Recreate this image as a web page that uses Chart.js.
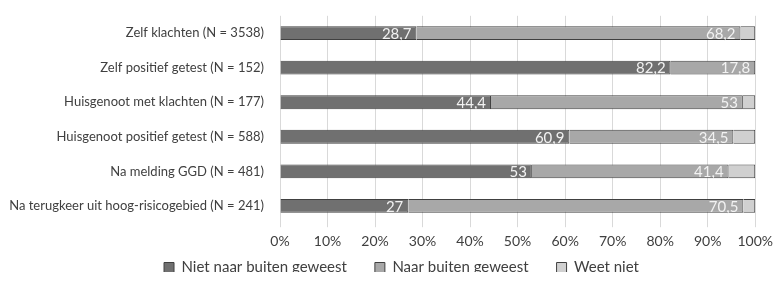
<!DOCTYPE html>
<html>
<head>
<meta charset="utf-8">
<script src="https://cdn.jsdelivr.net/npm/chart.js@4"></script>
<style>
  html, body { margin: 0; padding: 0; background: #fff; }
  #wrap { width: 779px; height: 281px; }
</style>
</head>
<body>
<div id="wrap"><canvas id="graph" width="779" height="281"></canvas></div>
<script>
const categories = [
    "Zelf klachten (N = 3538)",
    "Zelf positief getest (N = 152)",
    "Huisgenoot met klachten (N = 177)",
    "Huisgenoot positief getest (N = 588)",
    "Na melding GGD (N = 481)",
    "Na terugkeer uit hoog-risicogebied (N = 241)"
];
const nietBuiten = [28.7, 82.2, 44.4, 60.9, 53, 27];
const welBuiten = [68.2, 17.8, 53, 34.5, 41.4, 70.5];
const weetNiet = [3.1, 0, 2.6, 4.6, 5.6, 2.5];

const fontFam = "Lato, 'Open Sans', sans-serif";

// writes the value at the right end of each segment (only for the first two series)
const segmentLabels = {
    id: "segmentLabels",
    afterDatasetsDraw(chart) {
        const c = chart.ctx;
        c.save();
        c.font = "15px " + fontFam;
        c.fillStyle = "#f2f2f2";
        c.textAlign = "right";
        c.textBaseline = "middle";
        chart.data.datasets.forEach((ds, i) => {
            if (!ds.showLabels) return;
            chart.getDatasetMeta(i).data.forEach((bar, j) => {
                const v = ds.data[j];
                if (!v) return;
                c.fillText(String(v).replace(".", ","), bar.x - 5, bar.y + 1);
            });
        });
        c.restore();
    }
};

// keep the wide gap between legend items but not the tall legend box
const legendTweak = {
    id: "legendTweak",
    afterInit(chart) {
        const lg = chart.legend;
        const fit = lg.fit.bind(lg);
        lg.fit = function () {
            fit();
            this.height = 25;
        };
    },
    afterLayout(chart) {
        const lg = chart.legend;
        lg.top = 232;
        lg.bottom = lg.top + 40;
        lg.left = 24;
        lg.right = 779;
    }
};

const ctx = document.getElementById("graph").getContext("2d");
new Chart(ctx, {
    type: "bar",
    data: {
        labels: categories,
        datasets: [{
            label: "Niet naar buiten geweest",
            data: nietBuiten,
            backgroundColor: "#707070",
            borderColor: "#404040",
            borderWidth: 1,
            showLabels: true
        },
        {
            label: "Naar buiten geweest",
            data: welBuiten,
            backgroundColor: "#a8a8a8",
            borderColor: "#404040",
            borderWidth: 1,
            showLabels: true
        },
        {
            label: "Weet niet",
            data: weetNiet,
            backgroundColor: "#d0d0d0",
            borderColor: "#404040",
            borderWidth: 1
        }]
    },
    options: {
        indexAxis: "y",
        responsive: false,
        animation: false,
        layout: { padding: { top: 0, right: 2, left: 0, bottom: 0 } },
        datasets: { bar: { barPercentage: 0.4, categoryPercentage: 1 } },
        scales: {
            x: {
                stacked: true,
                min: 0,
                max: 100,
                ticks: {
                    stepSize: 10,
                    color: "#404040",
                    font: { family: fontFam, size: 14 },
                    padding: 6,
                    callback: v => v + "%"
                },
                grid: { color: "#d9d9d9", tickLength: 4 },
                border: { display: false }
            },
            y: {
                stacked: true,
                ticks: {
                    color: "#404040",
                    font: { family: fontFam, size: 13 },
                    padding: 8
                },
                grid: { display: false },
                border: { display: false },
                afterFit: s => { s.width = 280; }
            }
        },
        plugins: {
            legend: {
                position: "bottom",
                labels: {
                    color: "#404040",
                    font: { family: fontFam, size: 15 },
                    boxWidth: 10,
                    boxHeight: 10,
                    padding: 28
                }
            },
            tooltip: { enabled: false }
        }
    },
    plugins: [segmentLabels, legendTweak]
});
</script>
</body>
</html>
